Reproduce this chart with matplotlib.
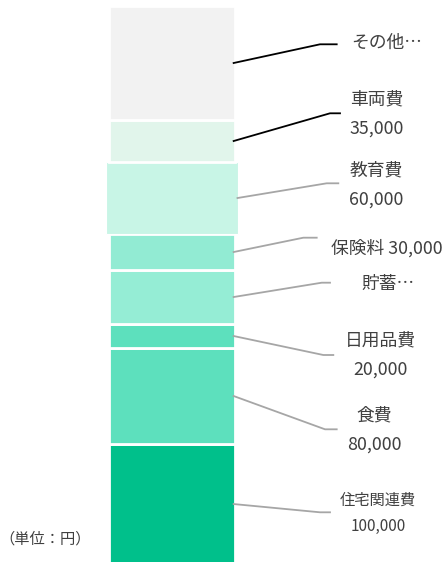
import matplotlib
matplotlib.use('Agg')
import matplotlib.pyplot as plt

plt.rcParams['font.family'] = ['Noto Sans CJK JP', 'DejaVu Sans']

# 家計の内訳（下から積み上げ）
費目 = ['住宅関連費', '食費', '日用品費', '貯蓄', '保険料', '教育費', '車両費', 'その他']
金額 = [100000, 80000, 20000, 45000, 30000, 60000, 35000, 95000]
色 = ['#00C08B', '#5DE0BD', '#5DE0BD', '#95EDD5', '#92EBD3', '#C8F5E6', '#E1F5EB', '#F2F2F2']
ラベル形式 = ['2行', '2行', '2行', '省略', '1行', '2行', '2行', '省略']

W, H = 446, 562
fig = plt.figure(figsize=(W / 100, H / 100), dpi=100)
ax = fig.add_axes([0, 0, 1, 1])
ax.set_xlim(0, W)
ax.set_ylim(1700, 470000)
ax.axis('off')

中心 = 171.8
幅 = 126.5

# 積み上げ棒（教育費だけ少し大きく表示）
下端 = 0
右端 = []
for i, (名, 値, c) in enumerate(zip(費目, 金額, 色)):
    w = 132 if 名 == '教育費' else 幅
    lw = 0.8 if 名 == '教育費' else 2.0
    ax.bar(中心, 値, width=w, bottom=下端, color=c, edgecolor='white', linewidth=lw)
    右端.append((中心 + w / 2 - (0.3 if 名 == '教育費' else 1.4), 下端 + 値 / 2))
    下端 += 値

# ラベル位置（ピクセル）と引き出し線の折れ点
ラベル位置 = [(378, 500), (374, 415), (380, 340), (388, 284), (387, 248), (376, 170), (377, 99), (387, 43)]
折れ点 = [(320, 512.3), (325, 429.3), (323.3, 355), (321.7, 282.7), (303.3, 237.7), (326.7, 183.3), (330, 113.3), (320, 44.3)]
線末端 = [330, 336.7, 333.3, 330, 316.7, 338.3, 340, 336.7]
線色 = ['#A6A6A6'] * 6 + ['black', 'black']


def fig座標(x, y):
    return x / W, 1 - y / H


fig.canvas.draw()
for i, 名 in enumerate(費目):
    x0, y0 = 右端[i]
    sx, sy = ax.transData.transform((x0, y0))
    p0 = (sx / W, sy / H)
    p1 = fig座標(*折れ点[i])
    p2 = fig座標(線末端[i], 折れ点[i][1])
    fig.add_artist(plt.Line2D([p0[0], p1[0], p2[0]], [p0[1], p1[1], p2[1]],
                              color=線色[i], linewidth=1.3, transform=fig.transFigure))

    値文字 = f'{金額[i]:,}'
    tx, ty = ラベル位置[i]
    fs = 11 if 名 == '住宅関連費' else 12.8
    gap = 26 if 名 == '住宅関連費' else 29.5
    if ラベル形式[i] == '2行':
        fig.text(*fig座標(tx, ty), 名, ha='center', va='center', fontsize=fs, color='#404040')
        fig.text(*fig座標(tx, ty + gap), 値文字, ha='center', va='center', fontsize=fs, color='#404040')
    elif ラベル形式[i] == '1行':
        fig.text(*fig座標(tx, ty), f'{名} {値文字}', ha='center', va='center', fontsize=fs, color='#404040')
    else:
        fig.text(*fig座標(tx, ty), f'{名}…', ha='center', va='center', fontsize=fs, color='#404040')

fig.text(*fig座標(45, 539), '（単位：円）', ha='center', va='center', fontsize=11, color='#404040')

fig.savefig('out.png', dpi=100)
